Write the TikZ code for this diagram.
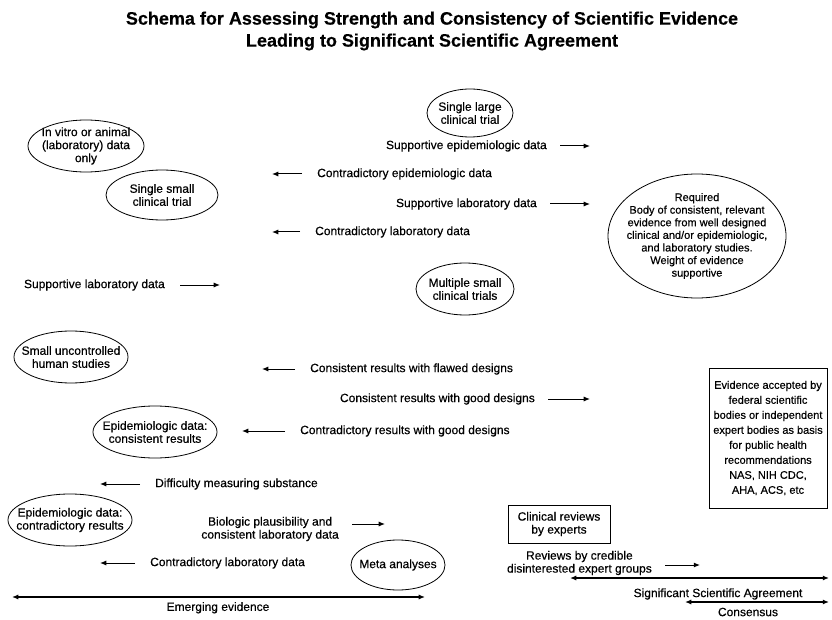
\documentclass[tikz,border=0pt]{standalone}
\usepackage{fontspec}
\setmainfont{Liberation Sans}[FakeBold=0.4]
\usetikzlibrary{shapes.geometric, positioning}
\usetikzlibrary{arrows.meta}
\tikzset{>={Latex[width=1.8mm,length=2.2mm]}}

\begin{document}
\begin{tikzpicture}[x=1pt, y=-1pt, font=\fontsize{12}{13}\selectfont, oval/.style={ellipse, draw=black, line width=0.8pt, inner sep=-30pt, align=center}, box/.style={rectangle, draw=black, line width=1pt, inner sep=-30pt, align=center}, txt/.style={draw=none, inner sep=1pt, align=center}, arr/.style={->, line width=1pt}, span/.style={<->, line width=1.4pt}]

    \useasboundingbox (0,0) rectangle (832,620);

    %Title
    \node[txt, font=\bfseries\fontsize{18}{22}\selectfont](title) at (432,31){Schema for Assessing Strength and Consistency of Scientific Evidence\\Leading to Significant Scientific Agreement};

    %Nodes
    \node[oval, minimum width=86, minimum height=48](largetrial) at (470,113){Single large\\clinical trial};
    \node[oval, minimum width=116, minimum height=52](invitro) at (86,146){In vitro or animal\\(laboratory) data\\only};
    \node[oval, minimum width=112, minimum height=50](smalltrial) at (162,195){Single small\\clinical trial};
    \node[oval, minimum width=178, minimum height=124, font=\fontsize{11}{12.6}\selectfont](required) at (697,236){Required\\Body of consistent, relevant\\evidence from well designed\\clinical and/or epidemiologic,\\and laboratory studies.\\Weight of evidence\\supportive};
    \node[oval, minimum width=98, minimum height=52](multitrials) at (465,289){Multiple small\\clinical trials};
    \node[oval, minimum width=114, minimum height=52](uncontrolled) at (71,357){Small uncontrolled\\human studies};
    \node[oval, minimum width=124, minimum height=52](epicons) at (155,432){Epidemiologic data:\\consistent results};
    \node[oval, minimum width=124, minimum height=52](epicontra) at (70,520){Epidemiologic data:\\contradictory results};
    \node[oval, minimum width=94, minimum height=50](meta) at (398,565){Meta analyses};
    \node[box, minimum width=118, minimum height=140, font=\fontsize{11}{15}\selectfont](accepted) at (768,438){Evidence accepted by\\federal scientific\\bodies or independent\\expert bodies as basis\\for public health\\recommendations\\NAS, NIH CDC,\\AHA, ACS, etc};
    \node[box, minimum width=102, minimum height=38](experts) at (559,524){Clinical reviews\\by experts};

    %Arrow ends
    \coordinate (supepi-a) at (560,146);  \coordinate (supepi-b) at (590,146);
    \coordinate (conepi-a) at (302,174);  \coordinate (conepi-b) at (272,174);
    \coordinate (suplab-a) at (550,204);  \coordinate (suplab-b) at (590,204);
    \coordinate (conlab-a) at (300,232);  \coordinate (conlab-b) at (272,232);
    \coordinate (suplableft-a) at (180,285);  \coordinate (suplableft-b) at (220,285);
    \coordinate (flawed-a) at (295,369);  \coordinate (flawed-b) at (262,369);
    \coordinate (good-a) at (548,399);  \coordinate (good-b) at (590,399);
    \coordinate (contgood-a) at (285,431);  \coordinate (contgood-b) at (242,431);
    \coordinate (difficulty-a) at (140,484);  \coordinate (difficulty-b) at (100,484);
    \coordinate (biologic-a) at (352,524);  \coordinate (biologic-b) at (385,524);
    \coordinate (conlableft-a) at (135,563);  \coordinate (conlableft-b) at (100,563);
    \coordinate (credible-a) at (665,565);  \coordinate (credible-b) at (700,565);
    \coordinate (emerging-a) at (12,597);  \coordinate (emerging-b) at (425,597);
    \coordinate (agreement-a) at (570,578);  \coordinate (agreement-b) at (829,578);
    \coordinate (consensus-a) at (685,602);  \coordinate (consensus-b) at (829,602);

    %Labels
    \node[txt](supepi)[left=12pt of supepi-a]{Supportive epidemiologic data};
    \node[txt](conepi)[right=14pt of conepi-a]{Contradictory epidemiologic data};
    \node[txt](suplab)[left=12pt of suplab-a]{Supportive laboratory data};
    \node[txt](conlab)[right=14pt of conlab-a]{Contradictory laboratory data};
    \node[txt](suplableft)[left=14pt of suplableft-a]{Supportive laboratory data};
    \node[txt](flawed)[right=14pt of flawed-a]{Consistent results with flawed designs};
    \node[txt](good)[left=12pt of good-a]{Consistent results with good designs};
    \node[txt](contgood)[right=14pt of contgood-a]{Contradictory results with good designs};
    \node[txt](difficulty)[right=14pt of difficulty-a]{Difficulty measuring substance};
    \node[txt](biologic)[left=12pt of biologic-a, yshift=-5pt]{Biologic plausibility and\\consistent laboratory data};
    \node[txt](conlableft)[right=14pt of conlableft-a]{Contradictory laboratory data};
    \node[txt](credible)[left=12pt of credible-a, yshift=2pt]{Reviews by credible\\disinterested expert groups};
    \node[txt](emerging)[below=4pt of emerging-a, xshift=206pt]{Emerging evidence};
    \node[txt](agreement) at (718,594){Significant Scientific Agreement};
    \node[txt](consensus) at (748,612){Consensus};

    %Lines
    \foreach \n in {supepi, conepi, suplab, conlab, suplableft, flawed, good, contgood, difficulty, biologic, conlableft, credible}
        \draw[arr] (\n-a) -- (\n-b);
    \foreach \n in {emerging, agreement, consensus}
        \draw[span] (\n-a) -- (\n-b);

\end{tikzpicture}
\end{document}
